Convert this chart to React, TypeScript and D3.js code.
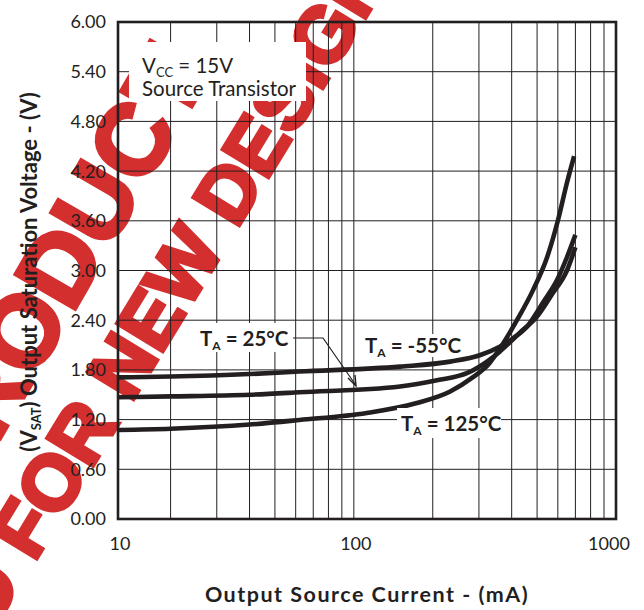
import React from "react";
import * as d3 from "d3";

// ---- data ----
const xDomain: [number, number] = [12.6, 1000];
const yDomain: [number, number] = [0, 6];
const xGridValues = [20, 30, 40, 50, 60, 70, 80, 90, 100, 200, 300, 400, 500, 600, 700, 800, 900];
const xTickValues = [12.6, 100, 1000];
const xTickLabels = ["10", "100", "1000"];
const yTickValues = [0, 0.6, 1.2, 1.8, 2.4, 3.0, 3.6, 4.2, 4.8, 5.4, 6.0];
const yTickLabels = ["0.00", "0.60", "1.20", "1.80", "2.40", "3.00", "3.60", "4.20", "4.80", "5.40", "6.00"];

const seriesM55: [number, number][] = [
  [12.6, 1.71], [20, 1.72], [40, 1.75], [62, 1.78], [150, 1.84], [233, 1.9], [304, 1.98],
  [360, 2.08], [400, 2.17], [457, 2.32], [526, 2.61], [597, 2.89], [650, 3.16], [700, 3.43],
];
const series25: [number, number][] = [
  [12.6, 1.47], [20, 1.48], [40, 1.5], [62, 1.53], [150, 1.6], [212, 1.68], [270, 1.76],
  [322, 1.9], [360, 2.02], [430, 2.25], [499, 2.44], [575, 2.73], [650, 3.0], [700, 3.28],
];
const series125: [number, number][] = [
  [12.6, 1.075], [20, 1.09], [40, 1.14], [62, 1.195], [112, 1.28], [174, 1.4], [233, 1.54],
  [284, 1.71], [329, 1.88], [361, 2.06], [419, 2.4], [482, 2.76], [546, 3.16], [601, 3.61],
  [650, 4.06], [692, 4.38],
];
const seriesList = [seriesM55, series25, series125];

const INK = "#231f20";
const RED = "#d42f2f";
const LATO = "Lato, 'Open Sans', sans-serif";

export default function App() {
  const left = 118, right = 616, top = 22, bottom = 519;
  const x = d3.scaleLog().domain(xDomain).range([left, right]);
  const y = d3.scaleLinear().domain(yDomain).range([bottom, top]);
  const line = d3
    .line<[number, number]>()
    .x((d) => x(d[0]))
    .y((d) => y(d[1]))
    .curve(d3.curveMonotoneX);

  return (
    <svg width={644} height={610} style={{ display: "block", position: "absolute", left: 0, top: 0 }}>
      <rect x={0} y={0} width={644} height={610} fill="#fff" />
      {/* watermark */}
      <g
        fill={RED}
        stroke={RED}
        strokeWidth={4}
        fontFamily="'Liberation Sans', Arial, sans-serif"
        fontWeight="bold"
      >
        <text transform="translate(87,288) rotate(-60)" textAnchor="middle" fontSize={100}>
          PRODUCT
        </text>
        <g transform="translate(34,563) rotate(-58.7)" fontSize={78}>
          <text x={-22} textAnchor="end">NOT RECOMMENDED</text>
          <text x={0} textAnchor="start">FOR NEW DESIGNS</text>
        </g>
      </g>

      {/* grid */}
      <g stroke={INK} strokeWidth={1}>
        {xGridValues.map((v) => (
          <line key={"gx" + v} x1={x(v)} x2={x(v)} y1={top} y2={bottom} />
        ))}
        {yTickValues.map((v) => (
          <line key={"gy" + v} x1={left} x2={right} y1={y(v)} y2={y(v)} />
        ))}
      </g>
      <rect x={left} y={top} width={right - left} height={bottom - top} fill="none" stroke={INK} strokeWidth={2.6} />

      {/* y tick labels */}
      <g fontFamily={LATO} fontSize={18} fill={INK} textAnchor="end">
        {yTickValues.map((v, i) => (
          <text key={"yl" + v} x={106} y={y(v)} dy="0.36em">
            {yTickLabels[i]}
          </text>
        ))}
      </g>
      {/* x tick labels */}
      <g fontFamily={LATO} fontSize={18} fill={INK} textAnchor="middle">
        {xTickValues.map((v, i) => (
          <text key={"xl" + v} x={Math.min(x(v) + 2, 609)} y={550}>
            {xTickLabels[i]}
          </text>
        ))}
      </g>

      {/* curves */}
      <g fill="none" stroke={INK} strokeWidth={4.6} strokeLinecap="butt">
        {seriesList.map((s, i) => (
          <path key={"c" + i} d={line(s) || ""} />
        ))}
      </g>

      {/* annotation box */}
      <rect x={129} y={42} width={177} height={59} fill="#fff" />
      <g fontFamily={LATO} fontSize={20.5} fill={INK}>
        <text x={142} y={73}>
          V<tspan fontSize={13} dy={4}>CC</tspan>
          <tspan dy={-4}> = 15V</tspan>
        </text>
        <text x={142} y={96}>Source Transistor</text>
      </g>

      {/* curve labels */}
      <rect x={196} y={323} width={95} height={29} fill="#fff" />
      <rect x={361} y={334} width={100} height={23} fill="#fff" />
      <rect x={397} y={408} width={104} height={30} fill="#fff" />
      <path d="M293,338 H323 L355,384" fill="none" stroke={INK} strokeWidth={1.2} />
      <path d="M348,378 L356,386 L355,375" fill="none" stroke={INK} strokeWidth={1.4} />
      <g fontFamily={LATO} fontSize={20.5} fontWeight="bold" fill={INK}>
        <text x={200} y={346}>
          T<tspan fontSize={12} dy={4}>A</tspan>
          <tspan dy={-4}> = 25°C</tspan>
        </text>
        <text x={365} y={353}>
          T<tspan fontSize={12} dy={4}>A</tspan>
          <tspan dy={-4}> = -55°C</tspan>
        </text>
        <text x={401} y={431}>
          T<tspan fontSize={12} dy={4}>A</tspan>
          <tspan dy={-4}> = 125°C</tspan>
        </text>
      </g>

      {/* axis titles */}
      <text
        x={367}
        y={602}
        textAnchor="middle"
        fontFamily={LATO}
        fontSize={21.5}
        fontWeight="bold"
        letterSpacing={1.5}
        fill={INK}
      >
        Output Source Current - (mA)
      </text>
      <text
        transform="translate(37,272) rotate(-90)"
        textAnchor="middle"
        fontFamily={LATO}
        fontSize={22}
        fontWeight="bold"
        fill={INK}
      >
        (V<tspan fontSize={13} dy={4}>SAT</tspan>
        <tspan dy={-4}>)   Output Saturation Voltage - (V)</tspan>
      </text>
    </svg>
  );
}
